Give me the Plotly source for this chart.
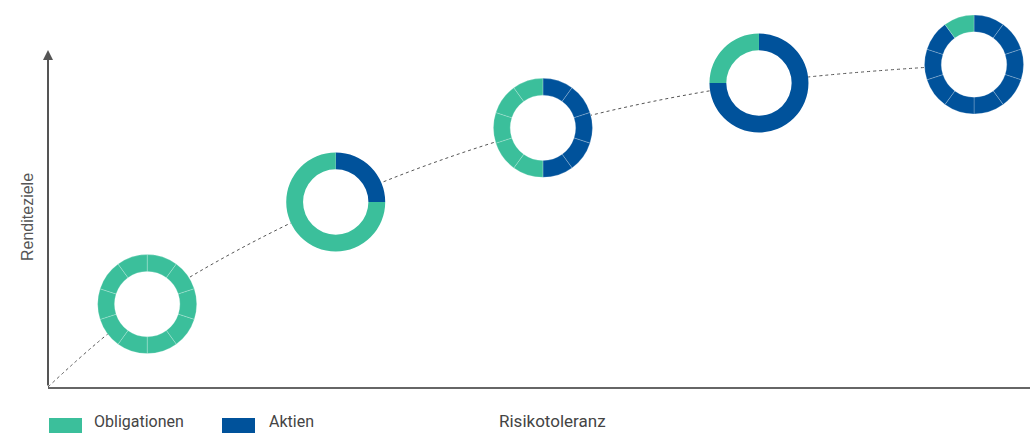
import plotly.graph_objects as go

# ---- data ----
risk = [10.1, 29.3, 50.4, 72.4, 94.3]          # Risikotoleranz (x, 0..100)
rendite = [24.6, 54.9, 76.9, 90.2, 95.7]       # Renditeziele (y, 0..100)
aktien = [0, 25, 50, 75, 90]                   # % Aktien
obligationen = [100, 75, 50, 25, 10]           # % Obligationen
segmented = [True, False, True, False, True]   # drawn in 10 % segments
curve_x = [0] + risk
curve_y = [0] + rendite
legend_names = ["Obligationen", "Aktien"]

GREEN = "#3bbf9b"
BLUE = "#00529b"
W, H = 1030, 433
X0, X1 = 48, 1030       # pixel extent of x axis
Y0, Y1 = 387, 50        # pixel extent of y axis (bottom, top)
R = 49.5                # donut radius in px
FONT = "Roboto"
TEXT_Y = 421            # pixel row of the bottom texts


def px(x):
    return X0 + x / 100 * (X1 - X0)


def py(y):
    return Y0 - y / 100 * (Y0 - Y1)


fig = go.Figure()

fig.add_trace(go.Scatter(
    x=curve_x, y=curve_y, mode="lines",
    line=dict(color="#555555", width=1, dash="dot", shape="spline", smoothing=1.0),
    showlegend=False, hoverinfo="skip"))

for i in range(len(risk)):
    if segmented[i]:
        vals = [10] * (aktien[i] // 10) + [10] * (obligationen[i] // 10)
        cols = [BLUE] * (aktien[i] // 10) + [GREEN] * (obligationen[i] // 10)
        lw = 1
    else:
        vals = [aktien[i], obligationen[i]]
        cols = [BLUE, GREEN]
        lw = 0
    cx, cy = px(risk[i]), py(rendite[i])
    dom = dict(x=[(cx - R) / W, (cx + R) / W], y=[(H - cy - R) / H, (H - cy + R) / H])
    # white disc so the dotted curve does not show through the hole
    fig.add_trace(go.Pie(
        values=[1], labels=[f"bg{i}"], marker=dict(colors=["white"], line=dict(width=0)),
        sort=False, textinfo="none", hoverinfo="skip", showlegend=False, domain=dom))
    fig.add_trace(go.Pie(
        values=vals,
        labels=[f"s{i}_{k}" for k in range(len(vals))],
        marker=dict(colors=cols, line=dict(color="rgba(255,255,255,0.22)", width=lw)),
        hole=0.66, sort=False, direction="clockwise", rotation=0,
        textinfo="none", hoverinfo="skip", showlegend=False, domain=dom))

# legend (drawn as shapes + text, wide colour boxes as in the reference)
leg_box_x = [49, 222]
leg_text_x = [92, 267]
leg_cols = [GREEN, BLUE]
shapes = []
annotations = [
    dict(x=0, y=100, xref="x", yref="y", ax=0, ay=0, axref="x", ayref="y",
         text="", showarrow=True, arrowhead=2, arrowsize=1, arrowwidth=2,
         arrowcolor="#555555", standoff=0),
    dict(x=28 / W, y=(H - 217) / H, xref="paper", yref="paper", text="Renditeziele",
         textangle=-90, showarrow=False, xanchor="center", yanchor="middle",
         font=dict(family="Liberation Sans", size=16, color="#555555")),
    dict(x=552 / W, y=(H - TEXT_Y) / H, xref="paper", yref="paper", text="Risikotoleranz",
         showarrow=False, xanchor="center", yanchor="middle",
         font=dict(family=FONT, size=17, color="#444444")),
]
for name, bx, tx, col in zip(legend_names, leg_box_x, leg_text_x, leg_cols):
    shapes.append(dict(type="rect", xref="paper", yref="paper",
                       x0=bx / W, x1=(bx + 33) / W, y0=(H - 440) / H, y1=(H - 418) / H,
                       fillcolor=col, line=dict(width=0)))
    annotations.append(dict(x=tx / W, y=(H - TEXT_Y) / H, xref="paper", yref="paper",
                            text=name, showarrow=False, xanchor="left", yanchor="middle",
                            font=dict(family=FONT, size=16, color="#444444")))

fig.update_layout(
    width=W, height=H,
    margin=dict(l=0, r=0, t=0, b=0, pad=0, autoexpand=False),
    paper_bgcolor="white", plot_bgcolor="white",
    font=dict(family=FONT, size=14, color="#444444"),
    showlegend=False,
    xaxis=dict(domain=[X0 / W, 1], range=[0, 100], showgrid=False, zeroline=False,
               showticklabels=False, ticks="", showline=True, linecolor="#666666",
               linewidth=2, fixedrange=True),
    yaxis=dict(domain=[(H - Y0) / H, (H - Y1) / H], range=[0, 100], showgrid=False,
               zeroline=False, showticklabels=False, ticks="", showline=False,
               fixedrange=True),
    shapes=shapes,
    annotations=annotations,
)

fig.write_html("out.html", config={"displayModeBar": False},
               post_script="document.body.style.margin='0px';")
